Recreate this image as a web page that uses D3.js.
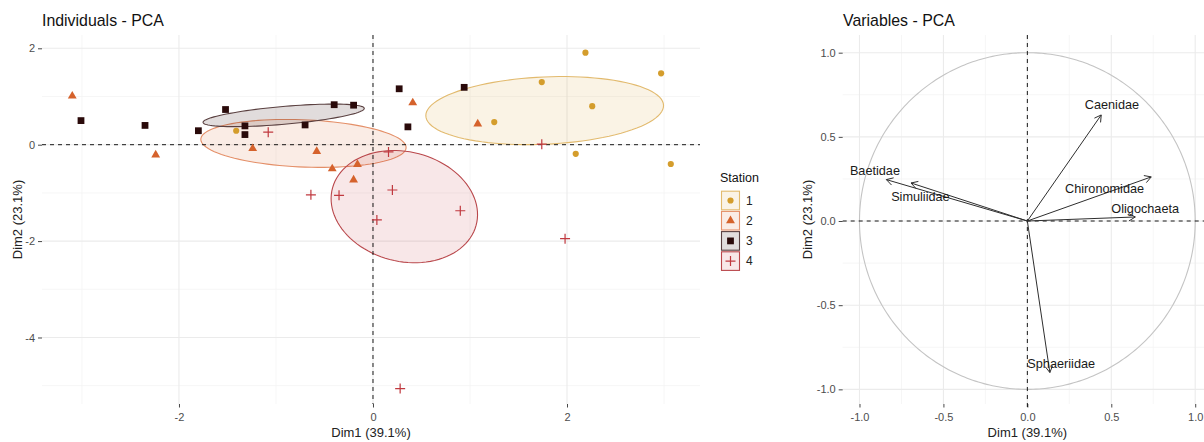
<!DOCTYPE html>
<html><head><meta charset="utf-8">
<script src="https://cdn.jsdelivr.net/npm/d3@7"></script>
<style>
body{margin:0;background:#fff;}
svg{display:block;font-family:"Liberation Sans",Arial,sans-serif;}
</style></head>
<body><svg id="c" width="1204" height="442"></svg>
<script>
// ---------- DATA ----------
const stations = ["1","2","3","4"];
const st1Dim1 = [-1.41, 1.25, 1.74, 2.19, 2.26, 2.97, 2.09, 3.07];
const st1Dim2 = [0.29, 0.47, 1.30, 1.91, 0.80, 1.48, -0.19, -0.40];
const st2Dim1 = [-3.10, -2.24, -1.24, -0.58, -0.42, -0.16, -0.20, 0.41, 1.08];
const st2Dim2 = [1.01, -0.21, -0.08, -0.14, -0.50, -0.41, -0.73, 0.87, 0.43];
const st3Dim1 = [-3.01, -2.35, -1.80, -1.52, -1.32, -1.32, -0.70, -0.40, -0.20, 0.27, 0.36, 0.94];
const st3Dim2 = [0.50, 0.40, 0.29, 0.73, 0.39, 0.21, 0.41, 0.83, 0.82, 1.16, 0.37, 1.19];
const st4Dim1 = [-1.08, -0.64, -0.35, 0.16, 0.20, 0.04, 0.90, 1.74, 1.98, 0.28];
const st4Dim2 = [0.26, -1.04, -1.05, -0.15, -0.94, -1.56, -1.37, 0.01, -1.95, -5.06];

const varNames = ["Caenidae","Chironomidae","Oligochaeta","Baetidae","Simuliidae","Sphaeriidae"];
const varDim1  = [0.44, 0.738, 0.643, -0.84, -0.693, 0.134];
const varDim2  = [0.63, 0.262, 0.024, 0.246, 0.226, -0.90];
const varLabelDim1 = [0.504, 0.46, 0.702, -0.908, -0.637, 0.2016];
const varLabelDim2 = [0.689, 0.195, 0.076, 0.298, 0.147, -0.845];

const indXTicks = [-2, 0, 2];
const indYTicks = [2, 0, -2, -4];
const varTicks = [-1.0, -0.5, 0.0, 0.5, 1.0];

// ---------- STYLE ----------
const ptColor   = ["#D49D2C", "#D5622C", "#2A0A0A", "#C0393F"];
const ellFill   = ["#D49D2C", "#D5622C", "#2A0A0A", "#C23A40"];
const ellStroke = ["#E2BA6E", "#E48F68", "#5A4040", "#B9474B"];
const groups = [
  {x: st1Dim1, y: st1Dim2},
  {x: st2Dim1, y: st2Dim2},
  {x: st3Dim1, y: st3Dim2},
  {x: st4Dim1, y: st4Dim2}
];

const svg = d3.select("#c");
const gridMajor = "#EBEBEB", gridMinor = "#F4F4F4";

// ---------- LEFT PANEL ----------
const L = {x0: 42, x1: 700, y0: 35, y1: 404};
const xL = d3.scaleLinear().domain([-3.412, 3.371]).range([L.x0, L.x1]);
const yL = d3.scaleLinear().domain([-5.38, 2.276]).range([L.y1, L.y0]);

function grid(g, xs, ys, P, xMinor, yMinor) {
  g.selectAll(".vminor").data(xMinor).join("line")
    .attr("x1", d => xs(d)).attr("x2", d => xs(d)).attr("y1", P.y0).attr("y2", P.y1)
    .attr("stroke", gridMinor).attr("stroke-width", 0.8);
  g.selectAll(".hminor").data(yMinor).join("line")
    .attr("y1", d => ys(d)).attr("y2", d => ys(d)).attr("x1", P.x0).attr("x2", P.x1)
    .attr("stroke", gridMinor).attr("stroke-width", 0.8);
}
function gridMaj(g, xs, ys, P, xMaj, yMaj) {
  g.selectAll(".vmaj").data(xMaj).join("line")
    .attr("x1", d => xs(d)).attr("x2", d => xs(d)).attr("y1", P.y0).attr("y2", P.y1)
    .attr("stroke", gridMajor).attr("stroke-width", 1.1);
  g.selectAll(".hmaj").data(yMaj).join("line")
    .attr("y1", d => ys(d)).attr("y2", d => ys(d)).attr("x1", P.x0).attr("x2", P.x1)
    .attr("stroke", gridMajor).attr("stroke-width", 1.1);
}

const gL = svg.append("g");
grid(gL.append("g"), xL, yL, L, [-3,-1,1,3], [-5,-3,-1,1]);
gridMaj(gL.append("g"), xL, yL, L, indXTicks, indYTicks);

// axes
const axStyle = (g) => {
  g.select(".domain").remove();
  g.selectAll(".tick line").attr("stroke", "#333").attr("stroke-width", 0.9);
  g.selectAll(".tick text").attr("fill", "#4D4D4D").style("font-size", "11px").style("font-family", "Liberation Sans, Arial, sans-serif");
};
gL.append("g").attr("transform", `translate(0,${L.y1})`)
  .call(d3.axisBottom(xL).tickValues(indXTicks).tickSize(3.5).tickPadding(6).tickFormat(d => String(d)))
  .call(axStyle);
gL.append("g").attr("transform", `translate(${L.x0},0)`)
  .call(d3.axisLeft(yL).tickValues(indYTicks).tickSize(4).tickPadding(3).tickFormat(d => String(d)))
  .call(axStyle);

// ellipses (95% confidence ellipses around group means)
const k = Math.sqrt(5.991464547);
function ellipsePts(xs, ys) {
  const n = xs.length;
  const mx = d3.mean(xs), my = d3.mean(ys);
  let sxx = 0, syy = 0, sxy = 0;
  for (let i = 0; i < n; i++) {
    sxx += (xs[i]-mx)**2; syy += (ys[i]-my)**2; sxy += (xs[i]-mx)*(ys[i]-my);
  }
  sxx /= (n-1); syy /= (n-1); sxy /= (n-1);
  sxx /= n; syy /= n; sxy /= n;
  const tr = sxx + syy, det = sxx*syy - sxy*sxy;
  const l1 = tr/2 + Math.sqrt(tr*tr/4 - det), l2 = tr/2 - Math.sqrt(tr*tr/4 - det);
  const ang = Math.atan2(l1 - sxx, sxy === 0 ? 1e-12 : sxy);
  const pts = [];
  for (let i = 0; i < 100; i++) {
    const t = 2*Math.PI*i/100;
    const a = k*Math.sqrt(l1)*Math.cos(t), b = k*Math.sqrt(l2)*Math.sin(t);
    pts.push([mx + a*Math.cos(ang) - b*Math.sin(ang), my + a*Math.sin(ang) + b*Math.cos(ang)]);
  }
  return pts;
}
const lineL = d3.line().x(d => xL(d[0])).y(d => yL(d[1])).curve(d3.curveLinearClosed);
const gE = gL.append("g");
groups.forEach((g, i) => {
  gE.append("path").attr("d", lineL(ellipsePts(g.x, g.y)))
    .attr("fill", ellFill[i]).attr("fill-opacity", i === 2 ? 0.14 : 0.12)
    .attr("stroke", ellStroke[i]).attr("stroke-width", 1.1);
});

// reference lines
gL.append("line").attr("x1", xL(0)).attr("x2", xL(0)).attr("y1", L.y0).attr("y2", L.y1)
  .attr("stroke", "#000").attr("stroke-dasharray", "4,4").attr("stroke-width", 0.9);
gL.append("line").attr("y1", yL(0)).attr("y2", yL(0)).attr("x1", L.x0).attr("x2", L.x1)
  .attr("stroke", "#000").attr("stroke-dasharray", "4,4").attr("stroke-width", 0.9);

// points
const symGen = [
  d3.symbol(d3.symbolCircle, 30),
  d3.symbol(d3.symbolTriangle, 34),
  d3.symbol(d3.symbolSquare, 46)
];
function drawMark(sel, i) {
  if (i < 3) {
    sel.append("path").attr("d", symGen[i]()).attr("fill", ptColor[i]);
  } else {
    sel.append("path").attr("d", "M-5,0H5M0,-5V5").attr("stroke", ptColor[i]).attr("stroke-width", 1.2).attr("fill", "none");
  }
}
const gP = gL.append("g");
groups.forEach((g, i) => {
  g.x.forEach((xv, j) => {
    const m = gP.append("g").attr("transform", `translate(${xL(xv)},${yL(g.y[j])})`);
    drawMark(m, i);
  });
});

// titles
svg.append("text").attr("x", 42).attr("y", 26).text("Individuals - PCA")
  .style("font-size", "15.9px").attr("fill", "#111");
svg.append("text").attr("x", (L.x0+L.x1)/2).attr("y", 437).attr("text-anchor", "middle")
  .text("Dim1 (39.1%)").style("font-size", "13px").attr("fill", "#222");
svg.append("text").attr("transform", `translate(22,${(L.y0+L.y1)/2}) rotate(-90)`).attr("text-anchor", "middle")
  .text("Dim2 (23.1%)").style("font-size", "13px").attr("fill", "#222");

// legend
const gLeg = svg.append("g");
gLeg.append("text").attr("x", 720).attr("y", 182).text("Station").style("font-size", "12.5px").attr("fill", "#111");
stations.forEach((s, i) => {
  const cy = 200.5 + i*20.2;
  gLeg.append("rect").attr("x", 721.5).attr("y", cy - 9.3).attr("width", 18).attr("height", 18.6)
    .attr("fill", d3.interpolateRgb("#fff", ellFill[i])(i === 2 ? 0.14 : 0.12))
    .attr("stroke", ellStroke[i]).attr("stroke-width", 1.1);
  const m = gLeg.append("g").attr("transform", `translate(730.5,${cy})`);
  drawMark(m, i);
  gLeg.append("text").attr("x", 746).attr("y", cy).attr("dy", "0.35em").text(s)
    .style("font-size", "12px").attr("fill", "#222");
});

// ---------- RIGHT PANEL ----------
const R = {x0: 842.7, x1: 1212, y0: 35, y1: 404};
const xR = d3.scaleLinear().domain([-1.1, 1.1]).range([R.x0, R.x1]);
const yR = d3.scaleLinear().domain([-1.087, 1.105]).range([R.y1, R.y0]);
const gR = svg.append("g");
grid(gR.append("g"), xR, yR, R, [-0.75,-0.25,0.25,0.75], [-0.75,-0.25,0.25,0.75]);
gridMaj(gR.append("g"), xR, yR, R, varTicks, varTicks);

gR.append("g").attr("transform", `translate(0,${R.y1})`)
  .call(d3.axisBottom(xR).tickValues(varTicks).tickSize(3.5).tickPadding(6).tickFormat(d => d.toFixed(1)))
  .call(axStyle);
gR.append("g").attr("transform", `translate(${R.x0},0)`)
  .call(d3.axisLeft(yR).tickValues(varTicks).tickSize(4).tickPadding(3).tickFormat(d => d.toFixed(1)))
  .call(axStyle);

// correlation circle
const circPts = d3.range(0, 361).map(a => [Math.cos(a*Math.PI/180), Math.sin(a*Math.PI/180)]);
gR.append("path").attr("d", d3.line().x(d => xR(d[0])).y(d => yR(d[1]))(circPts))
  .attr("fill", "none").attr("stroke", "#C4C4C4").attr("stroke-width", 1.1);

gR.append("line").attr("x1", xR(0)).attr("x2", xR(0)).attr("y1", R.y0).attr("y2", R.y1 + 4)
  .attr("stroke", "#000").attr("stroke-dasharray", "4,4").attr("stroke-width", 0.9);
gR.append("line").attr("y1", yR(0)).attr("y2", yR(0)).attr("x1", R.x0).attr("x2", R.x1)
  .attr("stroke", "#000").attr("stroke-dasharray", "4,4").attr("stroke-width", 0.9);

// arrows
const gA = gR.append("g");
varNames.forEach((nm, i) => {
  const x0 = xR(0), y0 = yR(0), x1 = xR(varDim1[i]), y1 = yR(varDim2[i]);
  const ang = Math.atan2(y1 - y0, x1 - x0), hl = 7.5, ha = Math.PI/6;
  gA.append("line").attr("x1", x0).attr("y1", y0).attr("x2", x1).attr("y2", y1)
    .attr("stroke", "#2E2E2E").attr("stroke-width", 1);
  gA.append("path")
    .attr("d", `M${x1 - hl*Math.cos(ang - ha)},${y1 - hl*Math.sin(ang - ha)}L${x1},${y1}L${x1 - hl*Math.cos(ang + ha)},${y1 - hl*Math.sin(ang + ha)}`)
    .attr("fill", "none").attr("stroke", "#2E2E2E").attr("stroke-width", 1);
});
varNames.forEach((nm, i) => {
  gA.append("text").attr("x", xR(varLabelDim1[i])).attr("y", yR(varLabelDim2[i])).attr("dy", "0.35em")
    .attr("text-anchor", "middle").text(nm).style("font-size", "12.7px").attr("fill", "#1A1A1A");
});

svg.append("text").attr("x", 843).attr("y", 26).text("Variables - PCA")
  .style("font-size", "15.9px").attr("fill", "#111");
svg.append("text").attr("x", xR(0)).attr("y", 437).attr("text-anchor", "middle")
  .text("Dim1 (39.1%)").style("font-size", "13px").attr("fill", "#222");
svg.append("text").attr("transform", `translate(812,${(R.y0+R.y1)/2}) rotate(-90)`).attr("text-anchor", "middle")
  .text("Dim2 (23.1%)").style("font-size", "13px").attr("fill", "#222");
</script></body></html>
